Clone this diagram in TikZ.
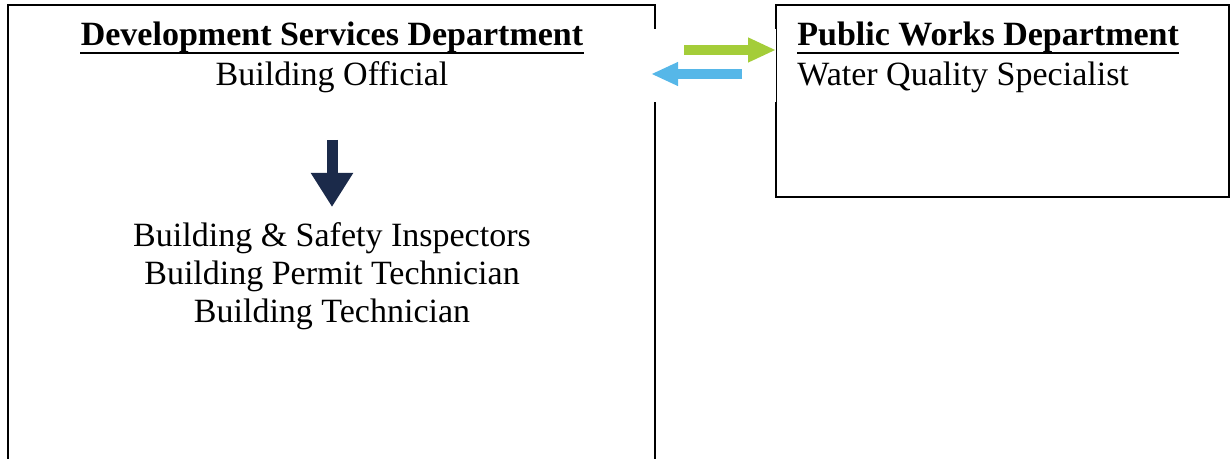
\documentclass[tikz,border=0pt]{standalone}
\usepackage{fontspec}
\setmainfont{Liberation Serif}
\usetikzlibrary{positioning}
\usetikzlibrary{arrows.meta}
\definecolor{arrowgreen}{RGB}{164,205,57}
\definecolor{arrowblue}{RGB}{86,183,232}
\definecolor{arrownavy}{RGB}{27,42,74}
\tikzset{%
  boxline/.style = {line width=1pt,draw=black},
  txt/.style = {inner sep=0pt,font=\fontsize{17}{19}\selectfont},
  head/.style = {txt,font=\fontsize{17}{19}\selectfont\bfseries},
  blockarrow/.style = {line width=5pt,-{Triangle[length=14pt,width=11.5pt]}}
}
\begin{document}
\begin{tikzpicture}[x=0.5pt,y=-0.5pt]
\useasboundingbox (0,0) rectangle (1230,459);
\clip (0,0) rectangle (1230,459);
% boxes, left one open where the arrows sit
\draw[boxline] (655,29) -- (655,5) -- (8,5) -- (8,470) -- (655,470) -- (655,102);
\draw[boxline] (776,29) -- (776,5) -- (1229,5) -- (1229,197) -- (776,197) -- (776,102);
\draw[line width=0.5pt] (776,29) -- (776,102);
% texts
\node[head,anchor=base] (dsd) at (332,46) {Development Services Department};
\node[txt,anchor=base] (bo) at (332,86) {Building Official};
\node[head,anchor=base west] (pwd) at (797,46) {Public Works Department};
\node[txt,anchor=base west] (wqs) at (797,86) {Water Quality Specialist};
\node[txt,anchor=north,align=center] (staff) at (332,222)
    {Building \& Safety Inspectors\\Building Permit Technician\\Building Technician};
% underlines
\draw[line width=1pt] ([yshift=-3.3pt]dsd.base west) -- ([yshift=-3.3pt]dsd.base east);
\draw[line width=1pt] ([yshift=-3.3pt]pwd.base west) -- ([yshift=-3.3pt]pwd.base east);
% arrows
\coordinate (gs) at (684,50);
\coordinate (ge) at (776,50);
\coordinate (bs) at (742,74);
\coordinate (be) at (651,74);
\coordinate (ds) at (332,140);
\coordinate (de) at (332,207);
\draw[blockarrow,arrowgreen] (gs) -- (ge);
\draw[blockarrow,arrowblue,-{Triangle[length=13.5pt,width=11pt]}] (bs) -- (be);
\draw[arrownavy,line width=5.5pt,-{Triangle[length=17pt,width=20pt]}] (ds) -- (de);
\end{tikzpicture}
\end{document}
